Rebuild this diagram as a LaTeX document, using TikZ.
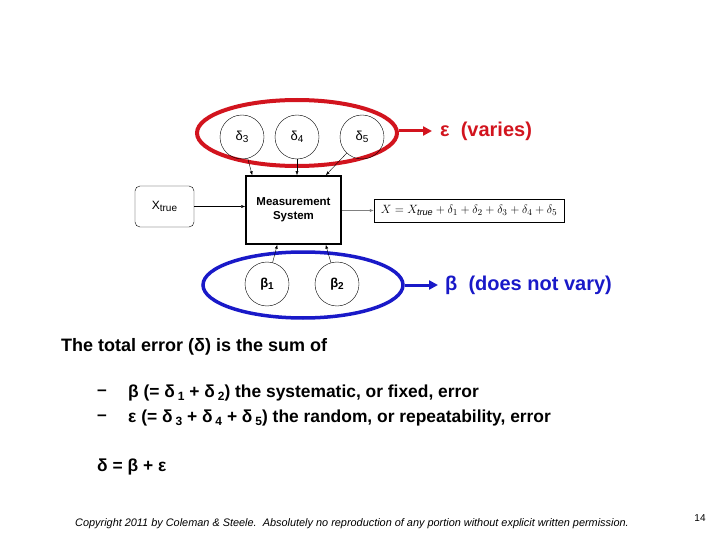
\documentclass[tikz,border=0pt]{standalone}
\usepackage{fontspec}
\setmainfont{Liberation Sans}
\usetikzlibrary{positioning,arrows.meta,shapes.geometric}
\definecolor{errred}{RGB}{210,20,30}
\definecolor{errblue}{RGB}{25,25,200}
\newcommand{\sub}[1]{\raisebox{-3pt}{\fontsize{12}{12}\selectfont #1}}
\newcommand{\csub}[1]{\raisebox{-2pt}{\fontsize{10}{10}\selectfont #1}}

\begin{document}
\begin{tikzpicture}[x=1pt, y=-1pt,
  src/.style={draw, circle, thin, minimum size=44pt, inner sep=0pt, font=\fontsize{13}{13}\selectfont},
  group/.style={draw, ellipse, minimum width=200pt, minimum height=66pt, inner sep=0pt},
  tip/.style={-{Latex[length=4pt,width=3pt]}, thin},
  big/.style={-{Triangle[length=9pt,width=9pt]}, line width=3pt},
  txt/.style={anchor=west, inner sep=0pt, font=\fontsize{18}{21}\selectfont\bfseries},
  item/.style={txt, font=\fontsize{17.4}{21}\selectfont\bfseries}
]
\useasboundingbox (0,0) rectangle (720,540);

% error sources
\node[group, draw=errred, line width=4pt] (eps) at (297,133) {};
\node[src] (d3) at (242,137) {δ\csub{3}};
\node[src] (d4) at (297,137) {δ\csub{4}};
\node[src] (d5) at (362,137) {δ\csub{5}};
\node[group, draw=errblue, line width=3.5pt] (beta) at (303,285) {};
\node[src, font=\fontsize{13}{13}\selectfont\bfseries] (b1) at (267,284) {β\csub{1}};
\node[src, font=\fontsize{13}{13}\selectfont\bfseries] (b2) at (337,284) {β\csub{2}};

% measurement chain
\node[draw, line width=1.5pt, minimum width=95pt, minimum height=68pt, align=center,
  font=\fontsize{11.5}{14}\selectfont\bfseries] (ms) at (293.5,210) {Measurement\\System};
\node[draw, rounded corners=5pt, minimum width=59pt, minimum height=41pt,
  font=\fontsize{12}{13}\selectfont] (xt) at (164.5,206.5) {X\csub{true}};
\node[draw, thin, minimum width=190pt, minimum height=23pt, inner sep=1pt,
  font=\fontsize{13}{13}\selectfont] (eq) at (469,210.5)
  {$X = X_{\mathit{true}} + \delta_1 + \delta_2 + \delta_3 + \delta_4 + \delta_5$};

\draw[tip] (d3) -- ([xshift=7pt]ms.north west);
\draw[tip] (d4) -- (d4 |- ms.north);
\draw[tip] (d5) -- ([xshift=-16pt]ms.north east);
\draw[tip] (b1) -- ([xshift=32pt]ms.south west);
\draw[tip] (b2) -- ([xshift=-16pt]ms.south east);
\draw[tip] (xt.east) -- (xt.east -| ms.west);
\draw[tip, black!50] (ms.east |- eq) -- (eq.west);

% labels of the two groups
\node[txt, font=\fontsize{20}{22}\selectfont\bfseries, text=errred, inner xsep=8pt] (varies) at (432,131) {ε\ \ (varies)};
\node[txt, font=\fontsize{20}{22}\selectfont\bfseries, text=errblue, inner xsep=7pt] (novary) at (438,285) {β\ \ (does not vary)};
\draw[big, errred] (eps.east |- varies) -- (varies.west);
\draw[big, errblue] (beta.east) -- (novary.west);

% text
\node[txt] (total) at (61,347) {The total error (δ) is the sum of};
\node[item] (dash1) at (97,393) {–};
\node[item] (sys) at (128,393) {β (= δ\,\sub{1} + δ\,\sub{2}) the systematic, or fixed, error};
\node[item] (dash2) at (97,418) {–};
\node[item] (rnd) at (128,418) {ε (= δ\,\sub{3} + δ\,\sub{4} + δ\,\sub{5}) the random, or repeatability, error};
\node[item] (sum) at (97,467) {δ = β + ε};

\node[anchor=west, inner sep=0pt, font=\fontsize{10.9}{12}\selectfont\itshape] (copy) at (75,524)
  {Copyright 2011 by Coleman \& Steele.\ \ Absolutely no reproduction of any portion without explicit written permission.};
\node[inner sep=0pt, font=\fontsize{10}{12}\selectfont] (pagenum) at (700,518) {14};
\end{tikzpicture}
\end{document}
